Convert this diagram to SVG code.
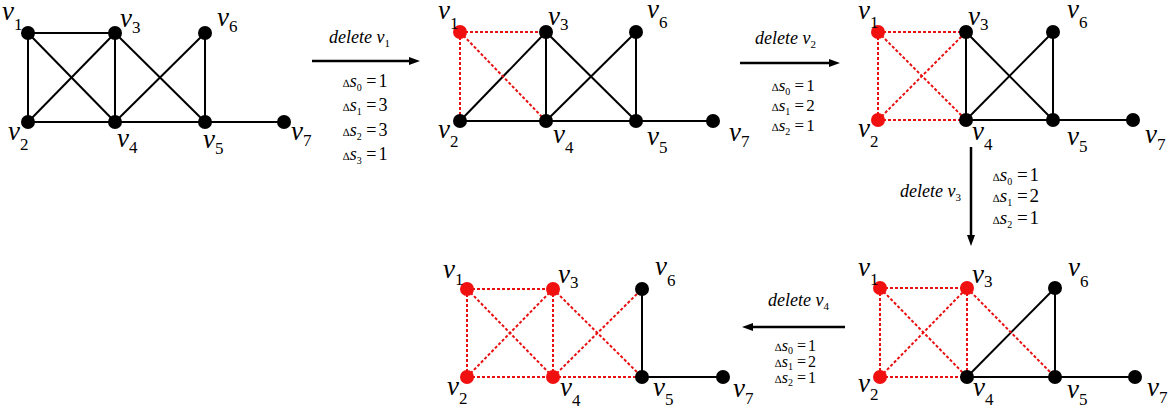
<svg xmlns="http://www.w3.org/2000/svg" width="1170" height="414" viewBox="0 0 1170 414">
<style>
.e{stroke:#000;stroke-width:2;fill:none}
.r{stroke:#e81010;stroke-width:2;stroke-dasharray:3 2;fill:none}
.nb{fill:#000}
.nr{fill:#f01010}
.lbl{font-family:"Liberation Serif",serif;font-size:27px;font-style:italic;fill:#000}
.sub{font-style:normal;font-size:17px}
.arr{stroke:#000;stroke-width:2.5;fill:none}
.del{font-family:"Liberation Serif",serif;font-style:italic;font-size:18px;fill:#000}
.ds{font-style:normal;font-size:11px}
.d{font-family:"Liberation Serif",serif;fill:#000}
.tri{font-size:11px}
.s{font-style:italic}
.z{font-size:10px}
</style>
<defs>
<marker id="ah" markerUnits="userSpaceOnUse" markerWidth="12" markerHeight="10" refX="2" refY="5" orient="auto">
<path d="M0,1 L11,5 L0,9 z" fill="#000"/>
</marker>
</defs>
<rect width="1170" height="414" fill="#fff"/>

<!-- connectors -->
<g id="connectors">
<g id="g1-edges" class="e">
<line x1="28" y1="33" x2="115" y2="33"/><line x1="28" y1="33" x2="28" y2="122"/><line x1="28" y1="33" x2="115" y2="122"/>
<line x1="115" y1="33" x2="28" y2="122"/><line x1="115" y1="33" x2="115" y2="122"/><line x1="115" y1="33" x2="205" y2="122"/>
<line x1="205" y1="33" x2="115" y2="122"/><line x1="205" y1="33" x2="205" y2="122"/>
<line x1="28" y1="122" x2="205" y2="122"/><line x1="205" y1="122" x2="284" y2="122"/>
</g>
<g id="g2-edges">
<g class="e">
<line x1="546" y1="32" x2="460" y2="121"/><line x1="546" y1="32" x2="546" y2="121"/><line x1="546" y1="32" x2="636" y2="121"/>
<line x1="636" y1="32" x2="546" y2="121"/><line x1="636" y1="32" x2="636" y2="121"/>
<line x1="460" y1="121" x2="713" y2="121"/>
</g>
<g class="r">
<line x1="460" y1="32" x2="546" y2="32"/><line x1="460" y1="32" x2="460" y2="121"/><line x1="460" y1="32" x2="546" y2="121"/>
</g>
</g>
<g id="g3-edges">
<g class="e">
<line x1="966" y1="32" x2="966" y2="120"/><line x1="966" y1="32" x2="1053" y2="120"/>
<line x1="1053" y1="32" x2="966" y2="120"/><line x1="1053" y1="32" x2="1053" y2="120"/>
<line x1="966" y1="120" x2="1133" y2="120"/>
</g>
<g class="r">
<line x1="878" y1="32" x2="966" y2="32"/><line x1="878" y1="32" x2="878" y2="120"/><line x1="878" y1="32" x2="966" y2="120"/>
<line x1="878" y1="120" x2="966" y2="32"/><line x1="878" y1="120" x2="966" y2="120"/>
</g>
</g>
<g id="g4-edges">
<g class="e">
<line x1="1055" y1="288" x2="967" y2="377"/><line x1="1055" y1="288" x2="1055" y2="377"/>
<line x1="967" y1="377" x2="1135" y2="377"/>
</g>
<g class="r">
<line x1="880" y1="288" x2="967" y2="288"/><line x1="880" y1="288" x2="880" y2="377"/><line x1="880" y1="288" x2="967" y2="377"/>
<line x1="880" y1="377" x2="967" y2="288"/><line x1="880" y1="377" x2="967" y2="377"/>
<line x1="967" y1="288" x2="967" y2="377"/><line x1="967" y1="288" x2="1055" y2="377"/>
</g>
</g>
<g id="g5-edges">
<g class="e">
<line x1="642" y1="289" x2="642" y2="377"/><line x1="642" y1="377" x2="723" y2="377"/>
</g>
<g class="r">
<line x1="467" y1="289" x2="553" y2="289"/><line x1="467" y1="289" x2="467" y2="377"/><line x1="467" y1="289" x2="553" y2="377"/>
<line x1="467" y1="377" x2="553" y2="289"/><line x1="467" y1="377" x2="553" y2="377"/>
<line x1="553" y1="289" x2="553" y2="377"/><line x1="553" y1="289" x2="642" y2="377"/>
<line x1="553" y1="377" x2="642" y2="289"/><line x1="553" y1="377" x2="642" y2="377"/>
</g>
</g>
<g id="step-arrows" class="arr">
<line x1="312" y1="61" x2="411" y2="61" marker-end="url(#ah)"/>
<line x1="740" y1="63" x2="831" y2="63" marker-end="url(#ah)"/>
<line x1="971" y1="147" x2="971" y2="237" marker-end="url(#ah)"/>
<line x1="845" y1="327" x2="751" y2="327" marker-end="url(#ah)"/>
</g>
</g>

<g id="g1">
<g id="g1-v1"><circle cx="28" cy="33" r="7" class="nb"/><text class="lbl" x="2" y="20">v<tspan class="sub" y="30">1</tspan></text></g>
<g id="g1-v3"><circle cx="115" cy="33" r="7" class="nb"/><text class="lbl" x="120" y="27">v<tspan class="sub" y="33">3</tspan></text></g>
<g id="g1-v6"><circle cx="205" cy="33" r="7" class="nb"/><text class="lbl" x="217" y="26">v<tspan class="sub" y="32">6</tspan></text></g>
<g id="g1-v2"><circle cx="28" cy="122" r="7" class="nb"/><text class="lbl" x="8" y="140">v<tspan class="sub" y="150">2</tspan></text></g>
<g id="g1-v4"><circle cx="115" cy="122" r="7" class="nb"/><text class="lbl" x="117" y="147">v<tspan class="sub" y="153">4</tspan></text></g>
<g id="g1-v5"><circle cx="205" cy="122" r="7" class="nb"/><text class="lbl" x="203" y="148">v<tspan class="sub" y="154">5</tspan></text></g>
<g id="g1-v7"><circle cx="284" cy="122" r="7" class="nb"/><text class="lbl" x="291" y="140">v<tspan class="sub" y="146">7</tspan></text></g>
</g>

<g id="g2">
<g id="g2-v1"><circle cx="460" cy="32" r="7" class="nr"/><text class="lbl" x="438" y="19">v<tspan class="sub" y="29">1</tspan></text></g>
<g id="g2-v3"><circle cx="546" cy="32" r="7" class="nb"/><text class="lbl" x="548" y="25">v<tspan class="sub" y="30">3</tspan></text></g>
<g id="g2-v6"><circle cx="636" cy="32" r="7" class="nb"/><text class="lbl" x="647" y="18">v<tspan class="sub" y="28">6</tspan></text></g>
<g id="g2-v2"><circle cx="460" cy="121" r="7" class="nb"/><text class="lbl" x="438" y="138">v<tspan class="sub" y="147">2</tspan></text></g>
<g id="g2-v4"><circle cx="546" cy="121" r="7" class="nb"/><text class="lbl" x="553" y="143">v<tspan class="sub" y="153">4</tspan></text></g>
<g id="g2-v5"><circle cx="636" cy="121" r="7" class="nb"/><text class="lbl" x="647" y="145">v<tspan class="sub" y="153">5</tspan></text></g>
<g id="g2-v7"><circle cx="713" cy="121" r="7" class="nb"/><text class="lbl" x="729" y="141">v<tspan class="sub" y="147">7</tspan></text></g>
</g>

<g id="g3">
<g id="g3-v1"><circle cx="878" cy="32" r="7" class="nr"/><text class="lbl" x="858" y="19">v<tspan class="sub" y="28">1</tspan></text></g>
<g id="g3-v3"><circle cx="966" cy="32" r="7" class="nb"/><text class="lbl" x="968" y="25">v<tspan class="sub" y="30">3</tspan></text></g>
<g id="g3-v6"><circle cx="1053" cy="32" r="7" class="nb"/><text class="lbl" x="1067" y="18">v<tspan class="sub" y="28">6</tspan></text></g>
<g id="g3-v2"><circle cx="878" cy="120" r="7" class="nr"/><text class="lbl" x="858" y="137">v<tspan class="sub" y="147">2</tspan></text></g>
<g id="g3-v4"><circle cx="966" cy="120" r="7" class="nb"/><text class="lbl" x="972" y="140">v<tspan class="sub" y="150">4</tspan></text></g>
<g id="g3-v5"><circle cx="1053" cy="120" r="7" class="nb"/><text class="lbl" x="1067" y="145">v<tspan class="sub" y="152">5</tspan></text></g>
<g id="g3-v7"><circle cx="1133" cy="120" r="7" class="nb"/><text class="lbl" x="1145" y="143">v<tspan class="sub" y="150">7</tspan></text></g>
</g>

<g id="g4">
<g id="g4-v1"><circle cx="880" cy="288" r="7" class="nr"/><text class="lbl" x="858" y="276">v<tspan class="sub" y="285">1</tspan></text></g>
<g id="g4-v3"><circle cx="967" cy="288" r="7" class="nr"/><text class="lbl" x="972" y="283">v<tspan class="sub" y="287">3</tspan></text></g>
<g id="g4-v6"><circle cx="1055" cy="288" r="7" class="nb"/><text class="lbl" x="1068" y="276">v<tspan class="sub" y="287">6</tspan></text></g>
<g id="g4-v2"><circle cx="880" cy="377" r="7" class="nr"/><text class="lbl" x="858" y="392">v<tspan class="sub" y="400">2</tspan></text></g>
<g id="g4-v4"><circle cx="967" cy="377" r="7" class="nb"/><text class="lbl" x="973" y="396">v<tspan class="sub" y="405">4</tspan></text></g>
<g id="g4-v5"><circle cx="1055" cy="377" r="7" class="nb"/><text class="lbl" x="1067" y="398">v<tspan class="sub" y="405">5</tspan></text></g>
<g id="g4-v7"><circle cx="1135" cy="377" r="7" class="nb"/><text class="lbl" x="1147" y="396">v<tspan class="sub" y="403">7</tspan></text></g>
</g>

<g id="g5">
<g id="g5-v1"><circle cx="467" cy="289" r="7" class="nr"/><text class="lbl" x="443" y="278">v<tspan class="sub" y="285">1</tspan></text></g>
<g id="g5-v3"><circle cx="553" cy="289" r="7" class="nr"/><text class="lbl" x="558" y="283">v<tspan class="sub" y="288">3</tspan></text></g>
<g id="g5-v6"><circle cx="642" cy="289" r="7" class="nb"/><text class="lbl" x="655" y="275">v<tspan class="sub" y="286">6</tspan></text></g>
<g id="g5-v2"><circle cx="467" cy="377" r="7" class="nr"/><text class="lbl" x="447" y="395">v<tspan class="sub" y="404">2</tspan></text></g>
<g id="g5-v4"><circle cx="553" cy="377" r="7" class="nr"/><text class="lbl" x="560" y="396">v<tspan class="sub" y="406">4</tspan></text></g>
<g id="g5-v5"><circle cx="642" cy="377" r="7" class="nb"/><text class="lbl" x="653" y="396">v<tspan class="sub" y="405">5</tspan></text></g>
<g id="g5-v7"><circle cx="723" cy="377" r="7" class="nb"/><text class="lbl" x="733" y="397">v<tspan class="sub" y="404">7</tspan></text></g>
</g>

<g id="step1-label">
<text class="del" x="329" y="43">delete v<tspan class="ds" dy="4">1</tspan></text>
<g class="d" font-size="18">
<text x="343" y="87"><tspan class="tri">∆</tspan><tspan class="s">s</tspan><tspan class="z" dy="4">0</tspan><tspan dy="-4"> =</tspan><tspan dx="2">1</tspan></text>
<text x="343" y="111"><tspan class="tri">∆</tspan><tspan class="s">s</tspan><tspan class="z" dy="4">1</tspan><tspan dy="-4"> =</tspan><tspan dx="2">3</tspan></text>
<text x="343" y="136"><tspan class="tri">∆</tspan><tspan class="s">s</tspan><tspan class="z" dy="4">2</tspan><tspan dy="-4"> =</tspan><tspan dx="2">3</tspan></text>
<text x="343" y="160"><tspan class="tri">∆</tspan><tspan class="s">s</tspan><tspan class="z" dy="4">3</tspan><tspan dy="-4"> =</tspan><tspan dx="2">1</tspan></text>
</g>
</g>
<g id="step2-label">
<text class="del" x="755" y="44">delete v<tspan class="ds" dy="4">2</tspan></text>
<g class="d" font-size="17">
<text x="772" y="91"><tspan class="tri">∆</tspan><tspan class="s">s</tspan><tspan class="z" dy="4">0</tspan><tspan dy="-4"> =</tspan><tspan dx="2">1</tspan></text>
<text x="772" y="111"><tspan class="tri">∆</tspan><tspan class="s">s</tspan><tspan class="z" dy="4">1</tspan><tspan dy="-4"> =</tspan><tspan dx="2">2</tspan></text>
<text x="772" y="131"><tspan class="tri">∆</tspan><tspan class="s">s</tspan><tspan class="z" dy="4">2</tspan><tspan dy="-4"> =</tspan><tspan dx="2">1</tspan></text>
</g>
</g>
<g id="step3-label">
<text class="del" x="900" y="197">delete v<tspan class="ds" dy="4">3</tspan></text>
<g class="d" font-size="19">
<text x="993" y="181"><tspan class="tri">∆</tspan><tspan class="s">s</tspan><tspan class="z" dy="4">0</tspan><tspan dy="-4"> =</tspan><tspan dx="2">1</tspan></text>
<text x="993" y="202"><tspan class="tri">∆</tspan><tspan class="s">s</tspan><tspan class="z" dy="4">1</tspan><tspan dy="-4"> =</tspan><tspan dx="2">2</tspan></text>
<text x="993" y="224"><tspan class="tri">∆</tspan><tspan class="s">s</tspan><tspan class="z" dy="4">2</tspan><tspan dy="-4"> =</tspan><tspan dx="2">1</tspan></text>
</g>
</g>
<g id="step4-label">
<text class="del" x="768" y="306">delete v<tspan class="ds" dy="4">4</tspan></text>
<g class="d" font-size="16">
<text x="775" y="351"><tspan class="tri">∆</tspan><tspan class="s">s</tspan><tspan class="z" dy="3">0</tspan><tspan dy="-3"> =</tspan><tspan dx="2">1</tspan></text>
<text x="775" y="367"><tspan class="tri">∆</tspan><tspan class="s">s</tspan><tspan class="z" dy="3">1</tspan><tspan dy="-3"> =</tspan><tspan dx="2">2</tspan></text>
<text x="775" y="383"><tspan class="tri">∆</tspan><tspan class="s">s</tspan><tspan class="z" dy="3">2</tspan><tspan dy="-3"> =</tspan><tspan dx="2">1</tspan></text>
</g>
</g>
</svg>
